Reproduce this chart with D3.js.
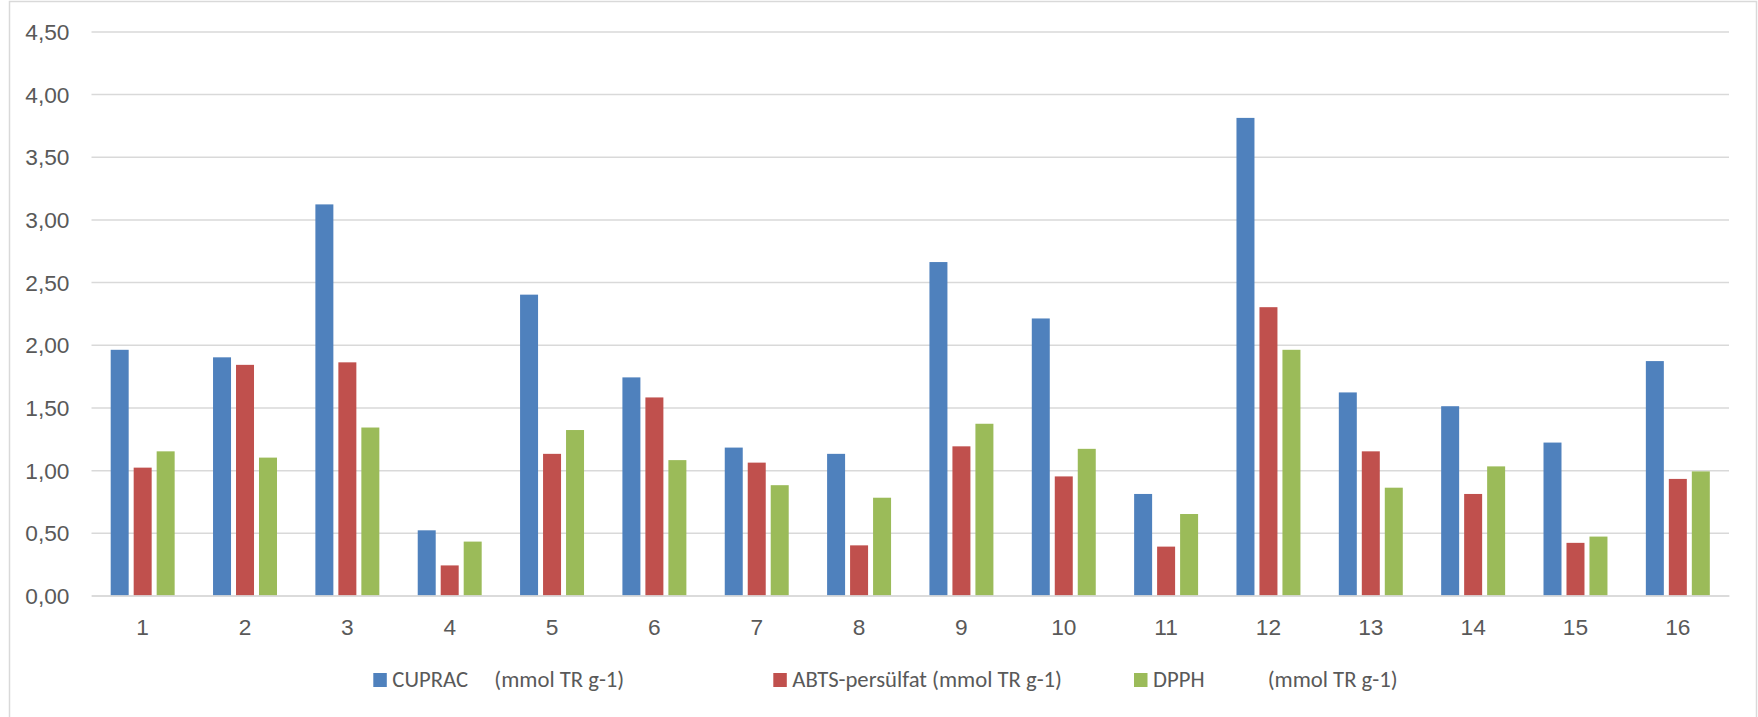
<!DOCTYPE html>
<html>
<head>
<meta charset="utf-8">
<script src="https://cdn.jsdelivr.net/npm/d3@7"></script>
<style>
  html, body { margin: 0; padding: 0; background: #fff; }
  svg { display: block; font-family: Calibri, Carlito, Lato, "Open Sans", sans-serif; }
</style>
</head>
<body>
<svg id="chart" width="1758" height="717"></svg>
<script>
const categories = ["1","2","3","4","5","6","7","8","9","10","11","12","13","14","15","16"];
const seriesNames = ["CUPRAC    (mmol TR g-1)", "ABTS-persülfat (mmol TR g-1)", "DPPH         (mmol TR g-1)"];
const cuprac = [1.96, 1.90, 3.12, 0.52, 2.40, 1.74, 1.18, 1.13, 2.66, 2.21, 0.81, 3.81, 1.62, 1.51, 1.22, 1.87];
const abts   = [1.02, 1.84, 1.86, 0.24, 1.13, 1.58, 1.06, 0.40, 1.19, 0.95, 0.39, 2.30, 1.15, 0.81, 0.42, 0.93];
const dpph   = [1.15, 1.10, 1.34, 0.43, 1.32, 1.08, 0.88, 0.78, 1.37, 1.17, 0.65, 1.96, 0.86, 1.03, 0.47, 0.99];
const yTicks = [0, 0.5, 1, 1.5, 2, 2.5, 3, 3.5, 4, 4.5];
const colors = ["#4f81bd", "#c0504d", "#9bbb59"];

(function () {
const seriesValues = [cuprac, abts, dpph];
const svg = d3.select("#chart");
const fontSize = "22.7px";

svg.append("rect")
  .attr("x", 9.5).attr("y", 1.5).attr("width", 1747).attr("height", 730)
  .attr("fill", "none").attr("stroke", "#d9d9d9").attr("stroke-width", 1.5);

const pLeft = 91.5, pRight = 1729, pTop = 31.4, pBottom = 595.5;

const y = d3.scaleLinear().domain([0, 4.5]).range([pBottom, pTop]);
const x0 = d3.scaleBand().domain(categories).range([pLeft, pRight])
  .paddingInner(0.375).paddingOuter(0.1875);
const x1 = d3.scaleBand().domain(d3.range(seriesNames.length)).range([0, x0.bandwidth()])
  .paddingInner(5 / 23).paddingOuter(0);

const fmt = d => d3.format(".2f")(d).replace(".", ",");
const yAxis = d3.axisLeft(y).tickValues(yTicks).tickSize(-(pRight - pLeft)).tickFormat(fmt).tickPadding(22);
const gy = svg.append("g").attr("transform", `translate(${pLeft},0)`).call(yAxis);
gy.select(".domain").remove();
gy.selectAll(".tick line").attr("stroke", "#d9d9d9").attr("stroke-width", 1.5);
gy.selectAll(".tick text").attr("fill", "#595959").style("font-size", fontSize)
  .attr("dy", "0.35em");

const groups = svg.append("g").selectAll("g")
  .data(categories)
  .join("g")
  .attr("transform", d => `translate(${x0(d)},0)`);

groups.selectAll("rect")
  .data((d, i) => seriesValues.map((vals, s) => ({ s, v: vals[i] })))
  .join("rect")
  .attr("x", d => x1(d.s))
  .attr("width", x1.bandwidth())
  .attr("y", d => y(d.v))
  .attr("height", d => y(0) - y(d.v))
  .attr("fill", d => colors[d.s]);

const xAxis = d3.axisBottom(x0).tickSize(0).tickPadding(23.4);
const gx = svg.append("g").attr("transform", `translate(0,${pBottom})`).call(xAxis);
gx.select(".domain").attr("stroke", "#d9d9d9").attr("stroke-width", 1.5);
gx.selectAll(".tick text").attr("fill", "#595959").style("font-size", fontSize);

const legendX = [373.3, 773.3, 1134];
const legendSecondOffset = [121, null, 133.7];
const legend = svg.append("g").attr("transform", "translate(0,679.5)");
seriesNames.forEach((name, i) => {
  const g = legend.append("g").attr("transform", `translate(${legendX[i]},0)`);
  g.append("rect").attr("x", 0).attr("y", -6.5).attr("width", 13.5).attr("height", 14).attr("fill", colors[i]);
  const parts = name.split(/\s{2,}/);
  const t = g.append("text").attr("x", 19).attr("dy", "0.35em")
    .attr("fill", "#595959").style("font-size", fontSize);
  if (parts.length > 1 && legendSecondOffset[i] != null) {
    t.append("tspan").text(parts[0]);
    t.append("tspan").attr("x", legendSecondOffset[i]).text(parts[1]);
  } else {
    t.text(name);
  }
});
})();
</script>
</body>
</html>
